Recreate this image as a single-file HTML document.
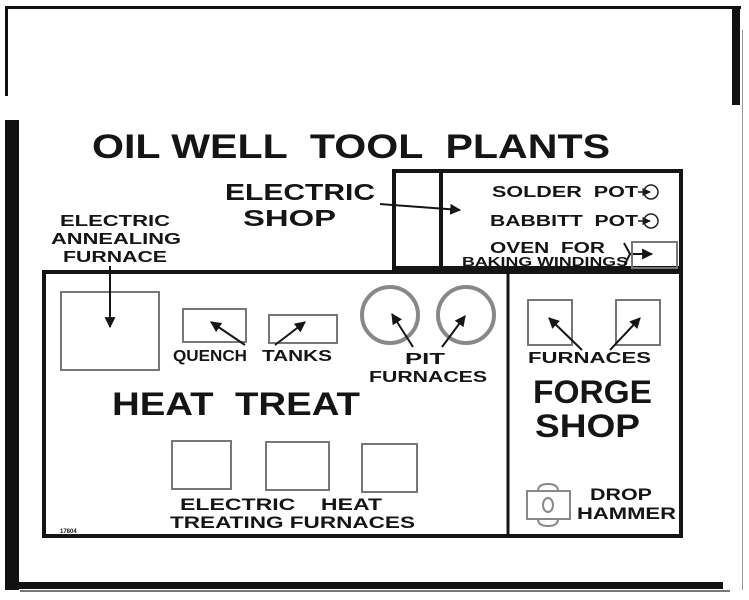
<!DOCTYPE html>
<html><head><meta charset="utf-8"><style>
html,body{margin:0;padding:0;background:#fff;}
svg{display:block;}
text{font-family:"Liberation Sans",sans-serif;font-weight:bold;fill:#151515;white-space:pre;}
</style></head><body>
<svg width="749" height="600" viewBox="0 0 749 600" xmlns="http://www.w3.org/2000/svg" xml:space="preserve">
<defs>
<marker id="ah" viewBox="0 0 10 10" refX="9" refY="5" markerWidth="5.5" markerHeight="5.5" orient="auto"><path d="M0,0 L10,5 L0,10 z" fill="#151515"/></marker>
</defs>
<rect width="749" height="600" fill="#fff"/>
<rect x="5" y="6" width="736" height="3" fill="#111"/>
<rect x="5" y="6" width="3" height="90" fill="#111"/>
<rect x="5" y="120" width="14" height="470" fill="#111"/>
<rect x="732" y="8" width="8" height="97" fill="#111"/>
<rect x="742" y="30" width="1" height="560" fill="#999"/>
<rect x="8" y="582" width="715" height="7" fill="#111"/>
<rect x="20" y="590" width="710" height="2" fill="#777"/>

<text x="92" y="158" font-size="34" textLength="518" lengthAdjust="spacingAndGlyphs">OIL WELL  TOOL  PLANTS</text>

<rect x="394" y="171" width="287" height="97" fill="none" stroke="#151515" stroke-width="4"/>
<line x1="441" y1="171" x2="441" y2="268" stroke="#151515" stroke-width="4"/>
<text x="225" y="200" font-size="23" textLength="150" lengthAdjust="spacingAndGlyphs">ELECTRIC</text>
<text x="243" y="226" font-size="23" textLength="93" lengthAdjust="spacingAndGlyphs">SHOP</text>
<line x1="380" y1="204" x2="460" y2="210" stroke="#151515" stroke-width="2" marker-end="url(#ah)"/>
<text x="492" y="197" font-size="16" textLength="146" lengthAdjust="spacingAndGlyphs">SOLDER  POT</text>
<text x="490" y="226" font-size="16" textLength="148" lengthAdjust="spacingAndGlyphs">BABBITT  POT</text>
<line x1="638" y1="192" x2="650" y2="192" stroke="#151515" stroke-width="1.5" marker-end="url(#ah)"/>
<line x1="638" y1="221" x2="650" y2="221" stroke="#151515" stroke-width="1.5" marker-end="url(#ah)"/>
<circle cx="651" cy="192" r="7" fill="none" stroke="#222" stroke-width="1.5"/>
<circle cx="651" cy="221" r="7" fill="none" stroke="#222" stroke-width="1.5"/>
<text x="490" y="253" font-size="16" textLength="115" lengthAdjust="spacingAndGlyphs">OVEN  FOR</text>
<text x="462" y="266" font-size="13" textLength="166" lengthAdjust="spacingAndGlyphs">BAKING WINDINGS</text>
<path d="M624,243 L630,254 L624,266" fill="none" stroke="#151515" stroke-width="2"/>
<line x1="630" y1="254" x2="652" y2="254" stroke="#151515" stroke-width="2" marker-end="url(#ah)"/>
<rect x="632" y="242" width="45" height="26" fill="none" stroke="#777" stroke-width="2"/>

<text x="115" y="226" font-size="16" text-anchor="middle" textLength="110" lengthAdjust="spacingAndGlyphs">ELECTRIC</text>
<text x="116" y="244" font-size="16" text-anchor="middle" textLength="130" lengthAdjust="spacingAndGlyphs">ANNEALING</text>
<text x="115" y="262" font-size="16" text-anchor="middle" textLength="104" lengthAdjust="spacingAndGlyphs">FURNACE</text>

<rect x="44" y="272" width="637" height="264" fill="none" stroke="#151515" stroke-width="4"/>
<line x1="508" y1="272" x2="508" y2="536" stroke="#151515" stroke-width="3"/>

<rect x="61" y="292" width="98" height="78" fill="none" stroke="#777" stroke-width="2"/>
<line x1="110" y1="266" x2="110" y2="327" stroke="#151515" stroke-width="2" marker-end="url(#ah)"/>

<rect x="183" y="309" width="63" height="33" fill="none" stroke="#777" stroke-width="2"/>
<rect x="269" y="315" width="68" height="28" fill="none" stroke="#777" stroke-width="2"/>
<line x1="245" y1="345" x2="211" y2="322" stroke="#151515" stroke-width="2" marker-end="url(#ah)"/>
<line x1="275" y1="345" x2="305" y2="322" stroke="#151515" stroke-width="2" marker-end="url(#ah)"/>
<text x="173" y="361" font-size="16" textLength="74" lengthAdjust="spacingAndGlyphs">QUENCH</text>
<text x="262" y="361" font-size="16" textLength="70" lengthAdjust="spacingAndGlyphs">TANKS</text>

<circle cx="390" cy="315" r="28" fill="none" stroke="#888" stroke-width="4"/>
<circle cx="466" cy="315" r="28" fill="none" stroke="#888" stroke-width="4"/>
<line x1="413" y1="347" x2="392" y2="314" stroke="#151515" stroke-width="2" marker-end="url(#ah)"/>
<line x1="442" y1="347" x2="465" y2="316" stroke="#151515" stroke-width="2" marker-end="url(#ah)"/>
<text x="425" y="364" font-size="16" text-anchor="middle" textLength="40" lengthAdjust="spacingAndGlyphs">PIT</text>
<text x="369" y="382" font-size="16" textLength="118" lengthAdjust="spacingAndGlyphs">FURNACES</text>

<text x="112" y="415" font-size="32" textLength="248" lengthAdjust="spacingAndGlyphs">HEAT  TREAT</text>

<rect x="172" y="441" width="59" height="48" fill="none" stroke="#777" stroke-width="2"/>
<rect x="266" y="442" width="63" height="48" fill="none" stroke="#777" stroke-width="2"/>
<rect x="362" y="444" width="55" height="48" fill="none" stroke="#777" stroke-width="2"/>
<text x="180" y="510" font-size="17" textLength="202" lengthAdjust="spacingAndGlyphs">ELECTRIC    HEAT</text>
<text x="170" y="528" font-size="17" textLength="245" lengthAdjust="spacingAndGlyphs">TREATING FURNACES</text>
<text x="60" y="533" font-size="6" fill="#333">17804</text>

<rect x="528" y="300" width="44" height="45" fill="none" stroke="#777" stroke-width="2"/>
<rect x="616" y="300" width="44" height="45" fill="none" stroke="#777" stroke-width="2"/>
<line x1="582" y1="350" x2="549" y2="318" stroke="#151515" stroke-width="2" marker-end="url(#ah)"/>
<line x1="610" y1="350" x2="640" y2="318" stroke="#151515" stroke-width="2" marker-end="url(#ah)"/>
<text x="528" y="363" font-size="16" textLength="123" lengthAdjust="spacingAndGlyphs">FURNACES</text>
<text x="533" y="403" font-size="32" textLength="119" lengthAdjust="spacingAndGlyphs">FORGE</text>
<text x="535" y="437" font-size="32" textLength="105" lengthAdjust="spacingAndGlyphs">SHOP</text>

<rect x="527" y="491" width="43" height="28" fill="none" stroke="#888" stroke-width="2"/>
<path d="M538,491 Q538,484 548,484 Q558,484 558,491" fill="none" stroke="#888" stroke-width="2"/>
<path d="M538,519 Q538,526 548,526 Q558,526 558,519" fill="none" stroke="#888" stroke-width="2"/>
<ellipse cx="548" cy="505" rx="5" ry="7" fill="none" stroke="#888" stroke-width="2"/>
<text x="590" y="500" font-size="17" textLength="62" lengthAdjust="spacingAndGlyphs">DROP</text>
<text x="577" y="519" font-size="17" textLength="99" lengthAdjust="spacingAndGlyphs">HAMMER</text>
</svg>
</body></html>
